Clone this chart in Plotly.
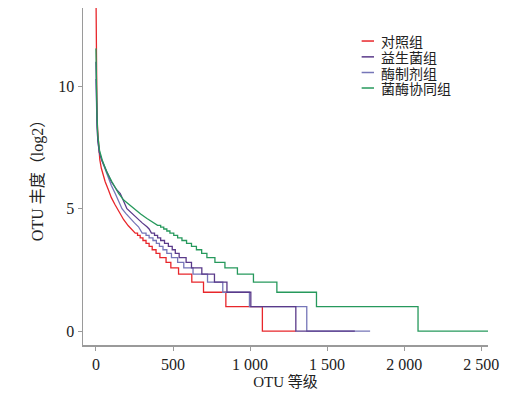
import numpy as np
import plotly.graph_objects as go

groups = ["对照组", "益生菌组", "酶制剂组", "菌酶协同组"]
colors = ["#E8262B", "#5A3A8A", "#7676B8", "#26995C"]

# smooth head part of each rank-abundance curve (rank, log2 abundance)
red_head_rank = [0, 2, 4, 6, 10, 17, 25, 35, 60, 80, 100, 125, 150, 180, 210, 240]
red_head_log2 = [14.0, 11.5, 10.2, 9.4, 8.3, 7.4, 7.0, 6.65, 6.1, 5.78, 5.45, 5.15, 4.85, 4.55, 4.3, 4.1]
pur_head_rank = [0, 2, 4, 7, 12, 22, 40, 70, 100, 136, 158, 201, 235, 266, 300, 331, 345]
pur_head_log2 = [11.0, 10.0, 9.2, 8.5, 7.8, 7.3, 6.95, 6.5, 6.1, 5.76, 5.62, 5.0, 4.8, 4.6, 4.42, 4.26, 4.17]
lav_head_rank = [0, 2, 4, 7, 12, 22, 40, 70, 100, 125, 169, 195, 222, 250, 276, 290]
lav_head_log2 = [10.3, 9.6, 9.0, 8.4, 7.8, 7.3, 6.95, 6.45, 5.95, 5.62, 5.0, 4.8, 4.6, 4.42, 4.26, 4.12]
grn_head_rank = [0, 2, 4, 7, 12, 23, 40, 70, 104, 147, 180, 244, 290, 331, 380]
grn_head_log2 = [11.55, 10.5, 9.6, 8.8, 8.0, 7.39, 7.0, 6.5, 6.1, 5.62, 5.35, 5.0, 4.78, 4.6, 4.42]

# stepped tail: abundance counts and the rank where each count level starts
red_counts = [16, 15, 14, 13, 12, 11, 10, 9, 8, 7, 6, 5, 4, 3, 2, 1]
red_starts = [255, 270, 287, 305, 325, 345, 365, 390, 415, 455, 486, 536, 622, 698, 843, 1080]
red_end = 1297
pur_counts = [16, 15, 14, 13, 12, 11, 10, 9, 8, 7, 6, 5, 4, 3, 2, 1]
pur_starts = [360, 380, 400, 420, 445, 470, 495, 515, 540, 585, 620, 687, 769, 850, 1005, 1297]
pur_end = 1680
lav_counts = [16, 15, 14, 13, 12, 11, 10, 9, 8, 7, 6, 5, 4, 3, 2, 1]
lav_starts = [300, 325, 345, 370, 392, 412, 435, 460, 490, 530, 570, 630, 724, 823, 996, 1368]
lav_end = 1779
grn_counts = [20, 19, 18, 17, 16, 15, 14, 13, 12, 11, 10, 9, 8, 7, 6, 5, 4, 3, 2, 1]
grn_starts = [400, 420, 440, 460, 480, 505, 530, 558, 588, 620, 652, 686, 720, 772, 837, 918, 1022, 1174, 1431, 2090]
grn_end = 2544

x_tickvals = [0, 500, 1000, 1500, 2000, 2500]
x_ticktext = ["0", "500", "1 000", "1 500", "2 000", "2 500"]
y_tickvals = [0, 5, 10]


def build(head_r, head_v, counts, starts, end):
    xs = list(head_r)
    ys = list(head_v)
    ends = starts[1:] + [end]
    for c, s, e in zip(counts, starts, ends):
        v = float(np.log2(c))
        xs += [s, e]
        ys += [v, v]
    return xs, ys


series = [
    build(red_head_rank, red_head_log2, red_counts, red_starts, red_end),
    build(pur_head_rank, pur_head_log2, pur_counts, pur_starts, pur_end),
    build(lav_head_rank, lav_head_log2, lav_counts, lav_starts, lav_end),
    build(grn_head_rank, grn_head_log2, grn_counts, grn_starts, grn_end),
]

fig = go.Figure()
draw_order = [0, 2, 1, 3]
for i in draw_order:
    xs, ys = series[i]
    fig.add_trace(go.Scatter(x=xs, y=ys, mode="lines", name=groups[i],
                             line=dict(color=colors[i], width=1.3),
                             showlegend=False, hoverinfo="skip"))

font_main = "Liberation Serif, Noto Sans CJK SC, serif"

# manual legend (short line keys like the reference)
leg_y = [0.902, 0.855, 0.8086, 0.7626]
for i, g in enumerate(groups):
    fig.add_shape(type="line", xref="paper", yref="paper",
                  x0=0.688, x1=0.7185, y0=leg_y[i], y1=leg_y[i],
                  line=dict(color=colors[i], width=1.5))
    fig.add_annotation(xref="paper", yref="paper", x=0.734, y=leg_y[i],
                       text=g, showarrow=False, xanchor="left", yanchor="middle",
                       borderpad=0,
                       font=dict(family="Noto Sans CJK SC", size=14, color="#222"))

fig.update_layout(
    width=518, height=393,
    margin=dict(l=83, r=30, t=8, b=48, autoexpand=False),
    paper_bgcolor="white", plot_bgcolor="white",
    font=dict(family=font_main, size=15, color="#222"),
    showlegend=False,
)
fig.update_xaxes(range=[-84, 2544], tickvals=x_tickvals, ticktext=x_ticktext,
                 automargin=False,
                 showline=True, linecolor="#9a9a9a", linewidth=1.5,
                 ticks="outside", ticklen=4, tickcolor="#9a9a9a",
                 showgrid=False, zeroline=False,
                 tickfont=dict(size=16, family=font_main),
                 title=dict(text="OTU 等级", font=dict(size=15, family=font_main), standoff=4))
fig.update_yaxes(range=[-0.57, 13.2], tickvals=y_tickvals,
                 automargin=False,
                 showline=True, linecolor="#9a9a9a", linewidth=1.5,
                 ticks="outside", ticklen=4, tickcolor="#9a9a9a",
                 showgrid=False, zeroline=False,
                 tickfont=dict(size=16, family=font_main),
                 title=dict(text="OTU 丰度（log2）", font=dict(size=16, family=font_main), standoff=10))

fig.write_html("out.html",
               config={"displayModeBar": False, "staticPlot": True},
               post_script="document.body.style.margin='0px';document.body.style.overflow='hidden';")
